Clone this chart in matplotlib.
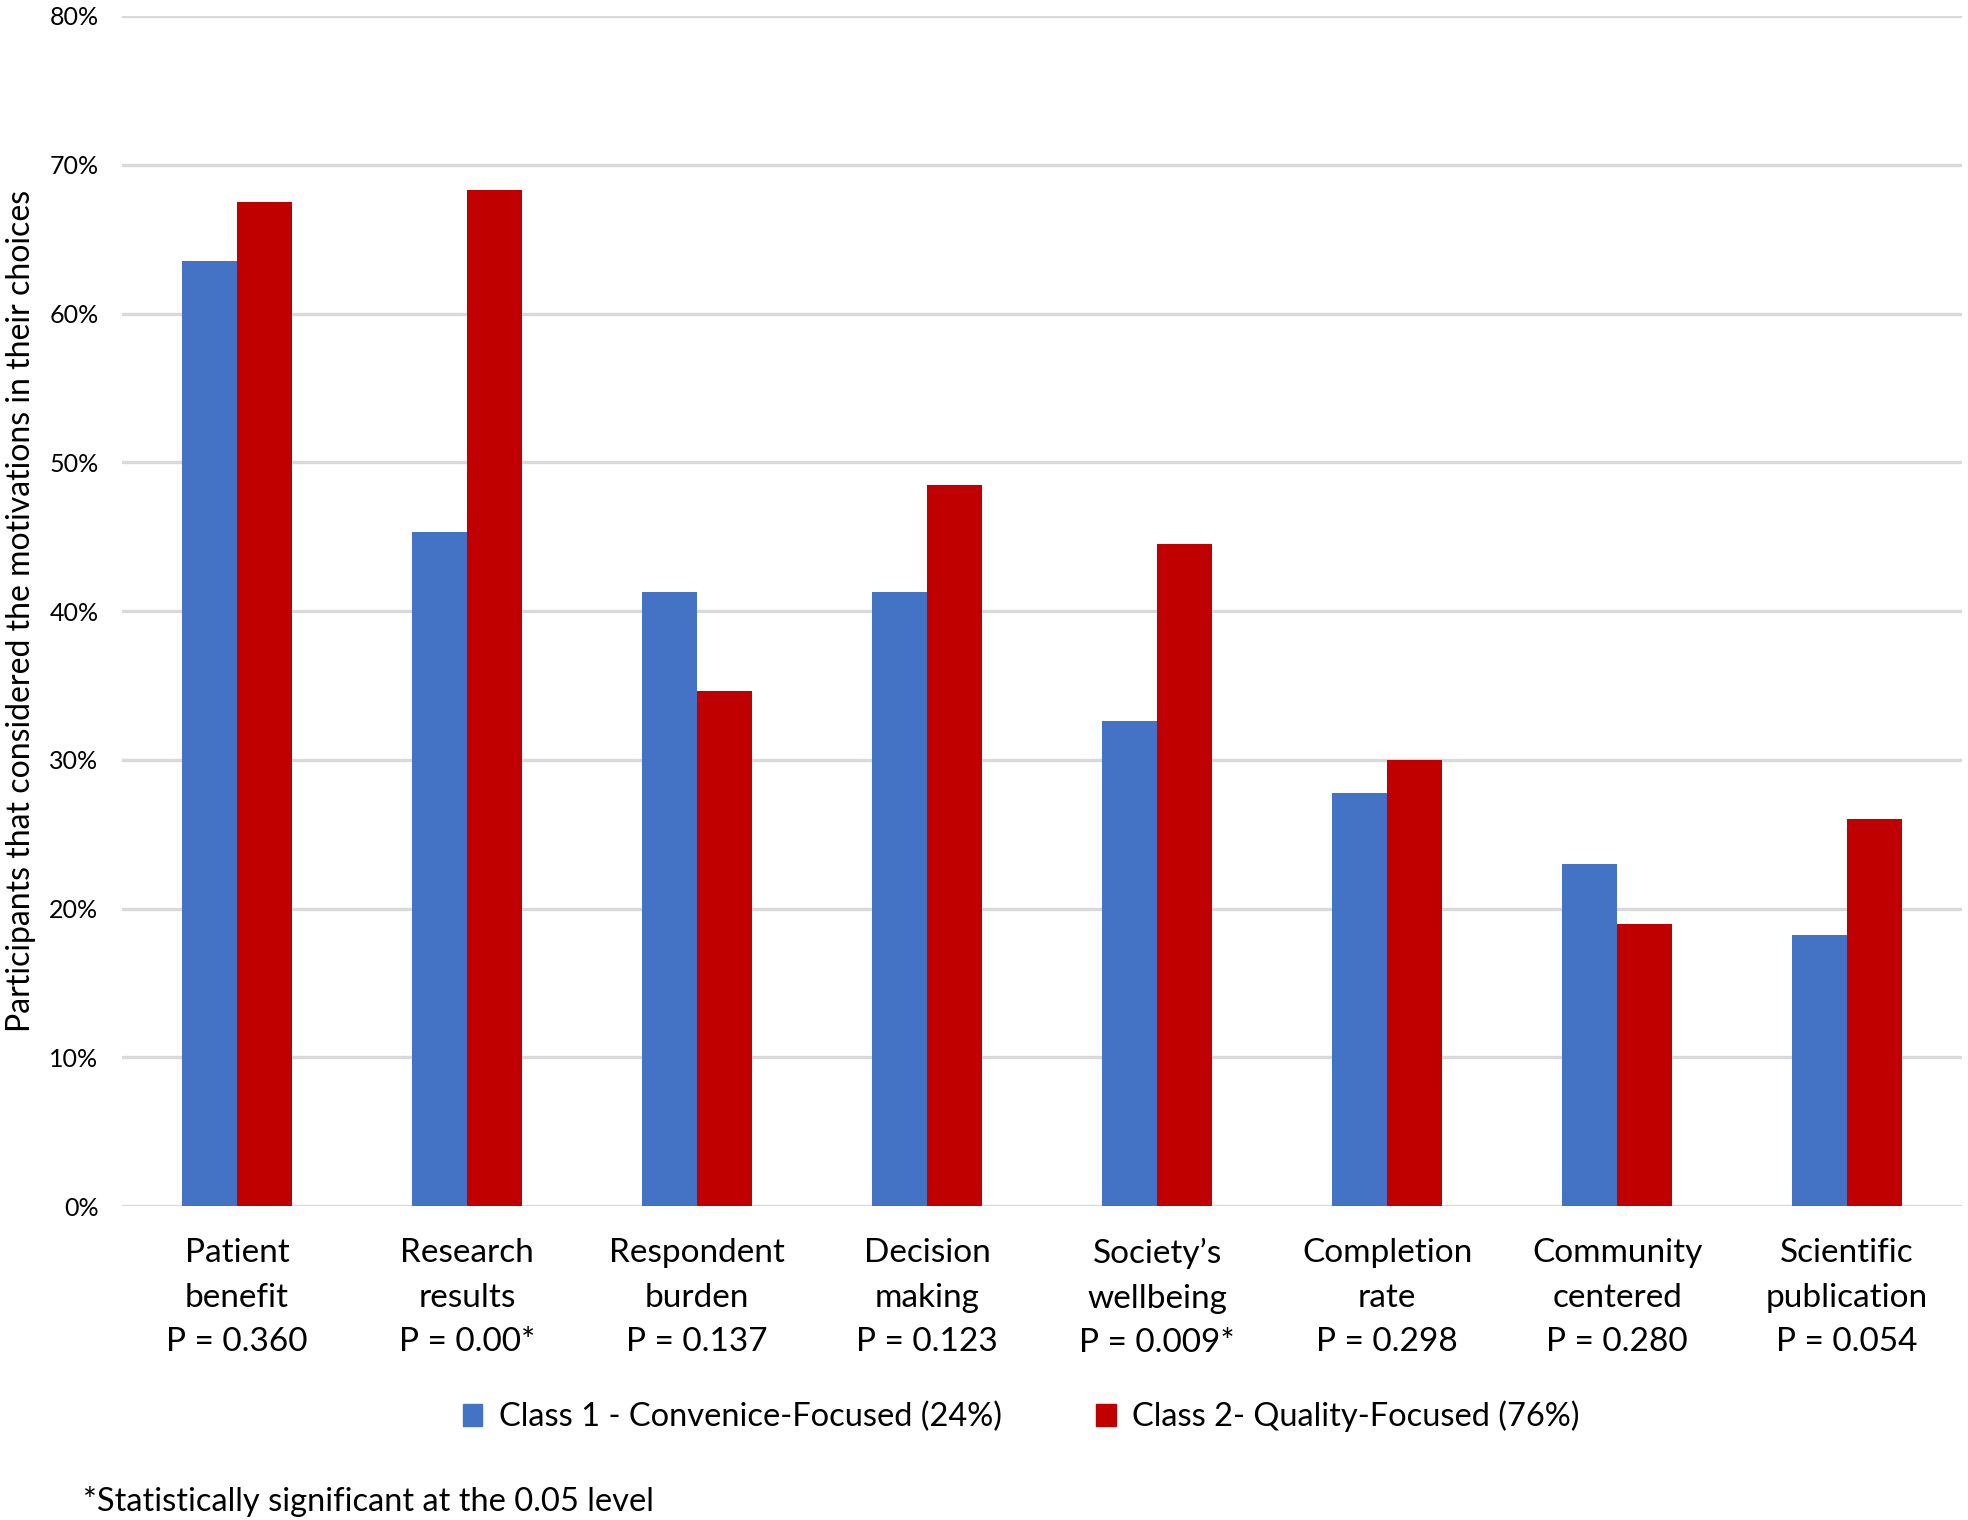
import numpy as np
import matplotlib
matplotlib.use("Agg")
import matplotlib.pyplot as plt
from matplotlib.patches import Patch
from matplotlib.ticker import PercentFormatter

plt.rcParams['font.family'] = ['Lato', 'DejaVu Sans']

# categories (three-line tick labels as in the original)
categories = [
    "Patient\nbenefit\nP = 0.360",
    "Research\nresults\nP = 0.00*",
    "Respondent\nburden\nP = 0.137",
    "Decision\nmaking\nP = 0.123",
    "Society\u2019s\nwellbeing\nP = 0.009*",
    "Completion\nrate\nP = 0.298",
    "Community\ncentered\nP = 0.280",
    "Scientific\npublication\nP = 0.054",
]
# percent of participants per class
class1 = [63.5, 45.3, 41.3, 41.3, 32.6, 27.8, 23.0, 18.2]
class2 = [67.5, 68.3, 34.6, 48.5, 44.5, 30.0, 19.0, 26.0]
series_names = ["Class 1 - Convenice-Focused (24%)", "Class 2- Quality-Focused (76%)"]

blue = "#4472C4"
red = "#C00000"

fig = plt.figure(figsize=(19.68, 15.2), dpi=100)
ax = fig.add_axes([0.062, 0.2064, 0.935, 0.7831])

x = np.arange(len(categories))
w = 0.24
ax.bar(x - w / 2, class1, w, color=blue, zorder=3)
ax.bar(x + w / 2, class2, w, color=red, zorder=3)

ax.set_xlim(-0.5, len(categories) - 0.5)
ax.set_ylim(0, 80)
ax.set_yticks(np.arange(0, 81, 10))
ax.yaxis.set_major_formatter(PercentFormatter(decimals=0))
ax.grid(axis='y', color='#d9d9d9', linewidth=2.4, zorder=0)
for s in ax.spines.values():
    s.set_visible(False)

ax.set_xticks(x)
ax.set_xticklabels(categories, fontsize=24, linespacing=1.6)
ax.tick_params(axis='x', length=0, pad=23)
ax.tick_params(axis='y', length=0, pad=17, labelsize=18)

ax.set_ylabel("Participants that considered the motivations in their choices",
              fontsize=23)
ax.yaxis.set_label_coords(-0.047, 0.5)

# legend under the chart
handles = [Patch(color=blue), Patch(color=red)]
fig.legend(handles, series_names, loc='center', bbox_to_anchor=(0.519, 0.068),
           ncol=2, frameon=False, fontsize=23.5, handlelength=0.6, handleheight=0.7,
           handletextpad=0.5, columnspacing=2.9)

fig.text(0.042, 0.002, "*Statistically significant at the 0.05 level",
         fontsize=23.5, ha='left', va='bottom')

fig.savefig("out.png", dpi=100)
